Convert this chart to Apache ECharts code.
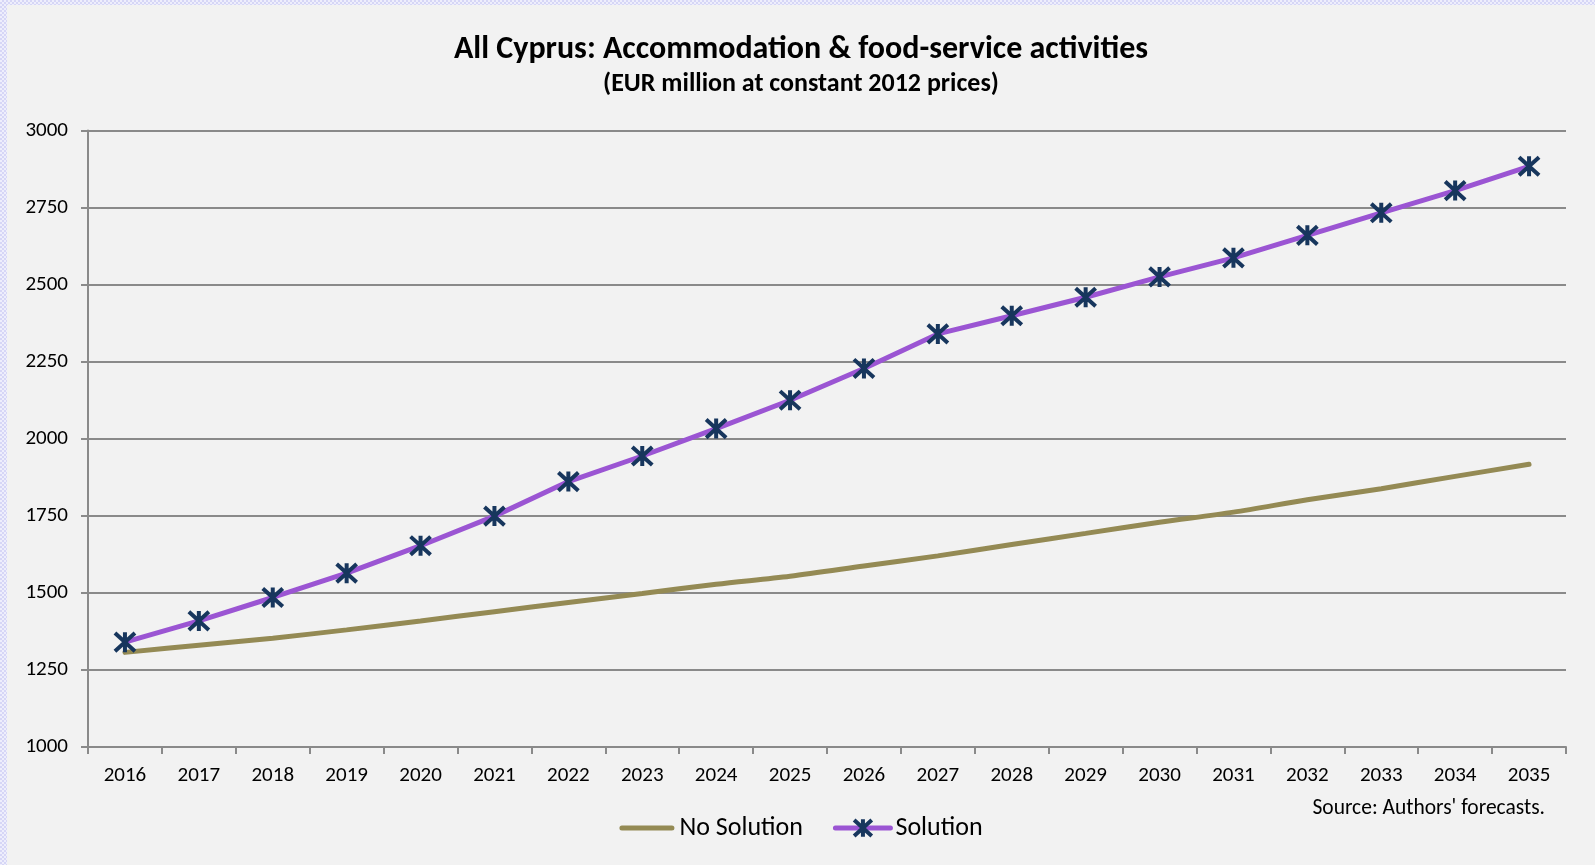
<!DOCTYPE html>
<html>
<head>
<meta charset="utf-8">
<script src="https://cdn.jsdelivr.net/npm/echarts@6/dist/echarts.min.js"></script>
<style>
  html, body { margin: 0; padding: 0; width: 1595px; height: 865px; overflow: hidden; }
  body {
    background-color: #e4e4fa;
    background-image: repeating-conic-gradient(#d6d6f6 0 25%, #eeeefc 0 50%);
    background-size: 4px 4px;
  }
  #chart { position: absolute; left: 7px; top: 5px; width: 1588px; height: 860px; background: #f2f2f2; }
</style>
</head>
<body>
<div id="chart"></div>
<script>
// Gross value added, accommodation & food-service activities, EUR million (2012 prices)
const years = ['2016','2017','2018','2019','2020','2021','2022','2023','2024','2025',
               '2026','2027','2028','2029','2030','2031','2032','2033','2034','2035'];
const noSolution = [1307, 1330, 1353, 1380, 1409, 1439, 1469, 1498, 1528, 1554,
                    1587, 1620, 1657, 1693, 1729, 1762, 1802, 1838, 1878, 1917];
const solution = [1340, 1409, 1485, 1564, 1653, 1749, 1861, 1944, 2033, 2125,
                  2228, 2340, 2399, 2459, 2525, 2587, 2660, 2733, 2805, 2884];
const yTicks = { min: 1000, max: 3000, step: 250 };

const FONT = 'Carlito, Lato, "Noto Sans", sans-serif';
const GRID = '#8a8a8a';
const OLIVE = '#948a54';
const PURPLE = '#9b55d3';
const NAVY = '#17365d';
const starSymbol = 'path://M0,0L10,10M10,0L0,10M5,-0.5L5,10.5';

const chart = echarts.init(document.getElementById('chart'), null, { renderer: 'canvas' });
chart.setOption({
  animation: false,
  backgroundColor: '#f2f2f2',
  textStyle: { fontFamily: FONT, color: '#000' },
  title: [
    {
      text: 'All Cyprus: Accommodation & food-service activities',
      subtext: '(EUR million at constant 2012 prices)',
      left: 'center', top: 24, itemGap: 5,
      textStyle: { fontFamily: FONT, fontSize: 32, fontWeight: 'bold', color: '#000' },
      subtextStyle: { fontFamily: FONT, fontSize: 26, fontWeight: 'bold', color: '#000' }
    },
    {
      text: "Source: Authors' forecasts.",
      right: 45, top: 788,
      textStyle: { fontFamily: FONT, fontSize: 21.5, fontWeight: 'normal', color: '#000' }
    }
  ],
  legend: {
    left: 'center', top: 805,
    itemWidth: 55, itemHeight: 22, itemGap: 30,
    textStyle: { fontFamily: FONT, fontSize: 26, color: '#000' },
    lineStyle: { width: 5 },
    data: [
      { name: 'No Solution', icon: 'path://M2.5,0H52.5A2.5,2.5,0,0,1,52.5,5H2.5A2.5,2.5,0,0,1,2.5,0Z', itemStyle: { color: OLIVE } },
      { name: 'Solution', itemStyle: { color: 'rgba(0,0,0,0)', borderColor: NAVY, borderWidth: 4 } }
    ]
  },
  grid: { left: 81, right: 29, top: 125.5, bottom: 118, containLabel: false },
  xAxis: {
    type: 'category',
    data: years,
    boundaryGap: true,
    axisLine: { lineStyle: { color: GRID, width: 2 } },
    axisTick: { show: true, length: 7, inside: false, lineStyle: { color: GRID, width: 2 } },
    axisLabel: { fontFamily: FONT, fontSize: 21, color: '#000', margin: 18 },
    splitLine: { show: false }
  },
  yAxis: {
    type: 'value',
    min: yTicks.min, max: yTicks.max, interval: yTicks.step,
    axisLine: { show: true, lineStyle: { color: GRID, width: 2 } },
    axisTick: { show: true, length: 7, lineStyle: { color: GRID, width: 2 } },
    axisLabel: { fontFamily: FONT, fontSize: 21, color: '#000', margin: 20, formatter: v => String(v) },
    splitLine: { show: true, lineStyle: { color: GRID, width: 2 } }
  },
  series: [
    {
      name: 'No Solution',
      type: 'line',
      data: noSolution,
      smooth: 0.3,
      showSymbol: false,
      symbol: 'none',
      lineStyle: { color: OLIVE, width: 5, cap: 'round' },
      itemStyle: { color: OLIVE },
      z: 2
    },
    {
      name: 'Solution',
      type: 'line',
      data: solution,
      symbol: starSymbol,
      symbolSize: 20,
      lineStyle: { color: PURPLE, width: 5, cap: 'round' },
      itemStyle: { color: 'rgba(0,0,0,0)', borderColor: NAVY, borderWidth: 4 },
      z: 3
    }
  ]
});
</script>
</body>
</html>
